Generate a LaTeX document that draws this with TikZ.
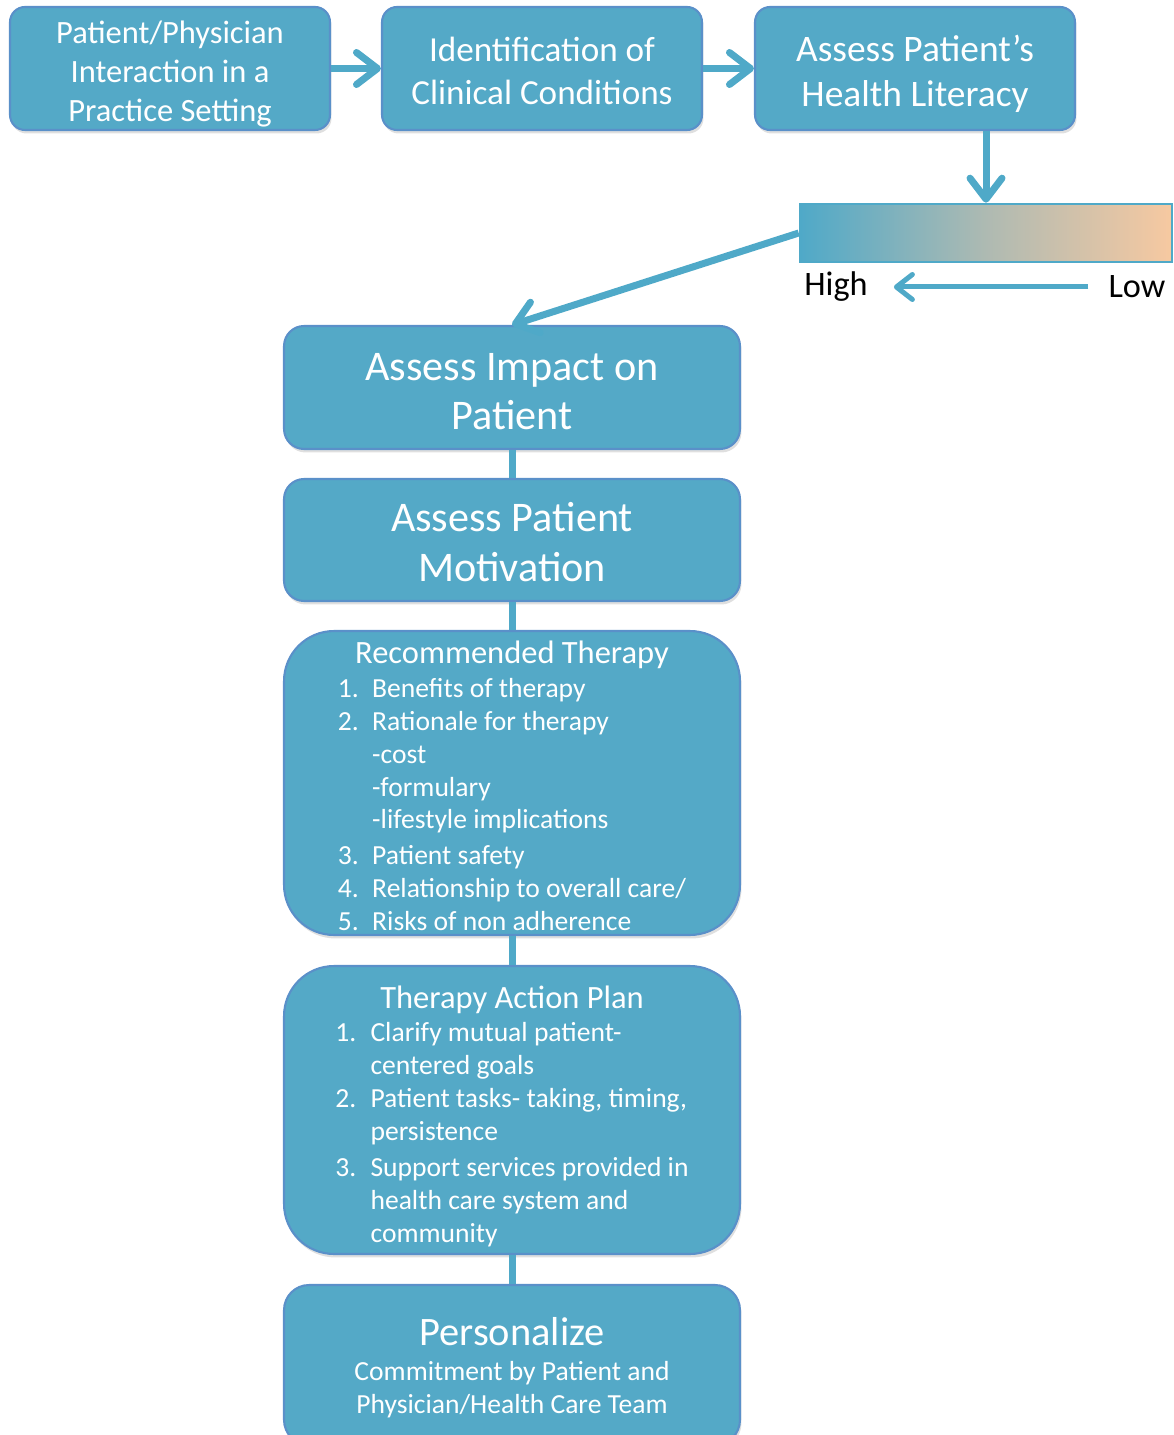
\documentclass[tikz,border=0pt]{standalone}
\usepackage{fontspec}
\setmainfont{Carlito}
\usepackage{xcolor}
\usepackage{tikz}
\usetikzlibrary{arrows.meta, positioning, shadows}

\definecolor{boxfill}{HTML}{54A9C7}
\definecolor{boxline}{HTML}{5A90C9}
\definecolor{flowline}{HTML}{4FA9C8}
\definecolor{barmid}{HTML}{AEBAB2}
\definecolor{lowend}{HTML}{F7C9A1}

% taller first line, pushes the text block down inside its box
\newcommand{\padtop}[1]{\rule{0pt}{#1}}
% sets a line lower without changing its size
\newcommand{\droptext}[2]{\raisebox{-#1}[\height][\depth]{#2}}

\begin{document}
\begin{tikzpicture}[x=0.02cm, y=-0.02cm,
    stepbox/.style={draw=boxline, line width=1.2pt, fill=boxfill, text=white, align=center, inner sep=0pt,
      drop shadow={opacity=0.25, shadow xshift=0.03cm, shadow yshift=-0.07cm}},
    flow/.style={draw=flowline, line width=0.14cm, -{Straight Barb[length=0.42cm, width=0.64cm, round]}},
    link/.style={draw=flowline, line width=0.14cm}]
      \useasboundingbox (0,0) rectangle (1173,1435);
      \clip (0,0) rectangle (1173,1435);

      % top row
      \node[stepbox, rounded corners=0.3cm, minimum width=6.4cm, minimum height=2.46cm, font=\fontsize{18.5}{22.4}\selectfont] (meet) at (170,68.5) {\padtop{19pt}Patient/Physician\\Interaction in a\\Practice Setting};
      \node[stepbox, rounded corners=0.3cm, minimum width=6.4cm, minimum height=2.46cm, font=\fontsize{20}{24.6}\selectfont] (identify) at (542,68.5) {\padtop{17pt}Identification of\\Clinical Conditions};
      \node[stepbox, rounded corners=0.3cm, minimum width=6.4cm, minimum height=2.46cm, font=\fontsize{21.3}{26}\selectfont] (literacy) at (915,68.5) {\padtop{21pt}Assess Patient’s\\Health Literacy};

      % literacy scale
      \node[draw=flowline, line width=1.5pt, left color=flowline, right color=lowend, middle color=barmid, minimum width=7.44cm, minimum height=1.16cm, inner sep=0pt] (bar) at (986,233) {};
      \node[font=\fontsize{19.5}{23}\selectfont] (high) at (836,287) {High};
      \node[font=\fontsize{19.5}{23}\selectfont] (low) at (1137,287) {Low};

      % column of steps
      \node[stepbox, rounded corners=0.4cm, minimum width=9.12cm, minimum height=2.46cm, font=\fontsize{24}{28.2}\selectfont] (impact) at (512,387.5) {\padtop{20pt}Assess Impact on\\Patient};
      \node[stepbox, rounded corners=0.4cm, minimum width=9.12cm, minimum height=2.44cm, font=\fontsize{24}{28.2}\selectfont] (motive) at (512,540) {\padtop{19pt}Assess Patient\\Motivation};
      \node[stepbox, rounded corners=1cm, minimum width=9.12cm, minimum height=6.08cm, font=\fontsize{15.7}{18.7}\selectfont] (therapy) at (512,783) {
        \droptext{4.3pt}{\fontsize{18.5}{22}\selectfont Recommended Therapy}\\[2pt]
        \droptext{4.5pt}{\begin{tabular}{@{}p{19.5pt}@{}l@{}}
          1. & Benefits of therapy\\
          2. & Rationale for therapy\\
             & -cost\\
             & -formulary\\
             & -lifestyle implications\\[1.7pt]
          3. & Patient safety\\
          4. & Relationship to overall care/\\
          5. & Risks of non adherence
        \end{tabular}}
      };
      \node[stepbox, rounded corners=1cm, minimum width=9.12cm, minimum height=5.76cm, font=\fontsize{15.7}{18.7}\selectfont] (plan) at (512,1110) {
        {\fontsize{18.5}{22}\selectfont\padtop{23pt}Therapy Action Plan}\\[2pt]
        \begin{tabular}{@{}p{20pt}@{}l@{}}
          1. & Clarify mutual patient-\\
             & centered goals\\
          2. & Patient tasks- taking, timing,\\
             & persistence\\[1.7pt]
          3. & Support services provided in\\
             & health care system and\\
             & community
        \end{tabular}
      };
      \node[stepbox, rounded corners=0.5cm, minimum width=9.12cm, minimum height=3.2cm, font=\fontsize{15.7}{18.7}\selectfont] (personal) at (512,1365) {
        {\fontsize{23}{27}\selectfont\padtop{19pt}Personalize}\\[1.3pt]
        Commitment by Patient and\\Physician/Health Care Team
      };

      \draw[flow] (meet) -- (identify);
      \draw[flow] (identify) -- (literacy);
      \draw[flow] (literacy.south -| bar.north) -- (bar.north);
      \draw[flow] (bar.west) -- (impact.north);
      \draw[flow, line width=0.1cm, -{Straight Barb[length=0.32cm, width=0.5cm, round]}, shorten <=0.28cm, shorten >=0.4cm] (low) -- (high);

      \draw[link] (impact) -- (motive);
      \draw[link] (motive) -- (therapy);
      \draw[link] (therapy) -- (plan);
      \draw[link] (plan) -- (personal);
    \end{tikzpicture}
\end{document}
